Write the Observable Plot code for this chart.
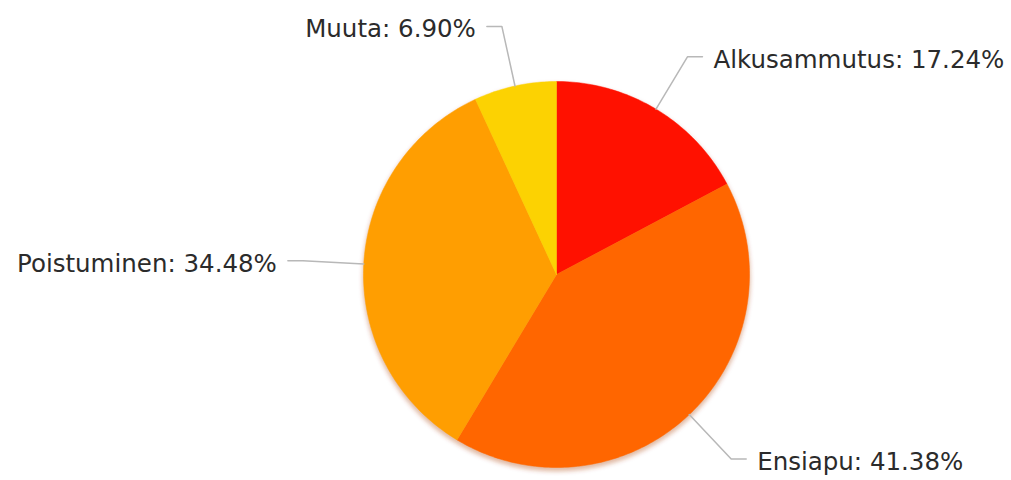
<!DOCTYPE html>
<html>
<head>
<meta charset="utf-8">
<script src="https://cdn.jsdelivr.net/npm/d3@7"></script>
<script src="https://cdn.jsdelivr.net/npm/@observablehq/plot@0.6"></script>
<style>
  html, body { margin: 0; padding: 0; background: #fff; }
  #chart { width: 1011px; height: 480px; }
</style>
</head>
<body>
<div id="chart"></div>
<script>
const categories = ["Alkusammutus", "Ensiapu", "Poistuminen", "Muuta"];
const values = [17.24, 41.38, 34.48, 6.90];
const colors = ["#FF1100", "#FF6600", "#FF9E01", "#FCD202"];
const labelTexts = ["Alkusammutus: 17.24%", "Ensiapu: 41.38%", "Poistuminen: 34.48%", "Muuta: 6.90%"];

const W = 1011, H = 480;
const cx = 556, cy = 274, R = 193;
const labelR = 254, hLen = 15, gap = 11;

const pie = d3.pie().sort(null).value((d) => d.value)(
  categories.map((name, i) => ({ name, value: values[i] }))
);

// slice polygons
const slicePts = [];
pie.forEach((a) => {
  const name = a.data.name;
  slicePts.push({ name, x: cx, y: cy });
  const n = Math.max(8, Math.ceil((a.endAngle - a.startAngle) * 60));
  for (let k = 0; k <= n; k++) {
    const t = a.startAngle + (a.endAngle - a.startAngle) * (k / n);
    slicePts.push({ name, x: cx + R * Math.sin(t), y: cy - R * Math.cos(t) });
  }
  slicePts.push({ name, x: cx, y: cy });
});

// leader lines and labels
const leaderPts = [];
const labelData = [];
pie.forEach((a, i) => {
  const name = a.data.name;
  const m = (a.startAngle + a.endAngle) / 2;
  const ex = cx + R * Math.sin(m), ey = cy - R * Math.cos(m);
  const bx = cx + labelR * Math.sin(m), by = cy - labelR * Math.cos(m);
  const right = Math.sin(m) >= 0;
  const hx = bx + (right ? hLen : -hLen);
  leaderPts.push({ name, x: ex, y: ey }, { name, x: bx, y: by }, { name, x: hx, y: by });
  labelData.push({ name, text: labelTexts[i], x: hx + (right ? gap : -gap), y: by + 3, right });
});

const plot = Plot.plot({
  width: W,
  height: H,
  margin: 0,
  x: { domain: [0, W], range: [0, W], axis: null },
  y: { domain: [0, H], range: [0, H], axis: null },
  color: { domain: categories, range: colors },
  style: { fontFamily: "'DejaVu Sans', Verdana, sans-serif", background: "#fff" },
  marks: [
    Plot.dot([0], { x: () => cx, y: () => cy + 3, r: R + 1, fill: "#a83a00", fillOpacity: 0.35, stroke: null }),
    Plot.line(slicePts, { x: "x", y: "y", z: "name", fill: "name", stroke: "name", strokeWidth: 0.5, curve: "linear" }),
    Plot.line(leaderPts, { x: "x", y: "y", z: "name", stroke: "#b8b8b8", strokeWidth: 1.5, curve: "linear" }),
    Plot.text(labelData.filter((d) => d.right), { x: "x", y: "y", text: "text", textAnchor: "start", fontSize: 24.5, fill: "#2b2b2b" }),
    Plot.text(labelData.filter((d) => !d.right), { x: "x", y: "y", text: "text", textAnchor: "end", fontSize: 24.5, fill: "#2b2b2b" })
  ]
});

// soften the shadow
const svg = plot;
const ns = "http://www.w3.org/2000/svg";
const defs = document.createElementNS(ns, "defs");
const filt = document.createElementNS(ns, "filter");
filt.setAttribute("id", "blurShadow");
filt.setAttribute("x", "-20%"); filt.setAttribute("y", "-20%");
filt.setAttribute("width", "140%"); filt.setAttribute("height", "140%");
const blur = document.createElementNS(ns, "feGaussianBlur");
blur.setAttribute("stdDeviation", "2");
filt.appendChild(blur);
defs.appendChild(filt);
svg.insertBefore(defs, svg.firstChild);
const dotG = svg.querySelector('g[aria-label="dot"]');
if (dotG) dotG.setAttribute("filter", "url(#blurShadow)");

document.getElementById("chart").appendChild(plot);
</script>
</body>
</html>
